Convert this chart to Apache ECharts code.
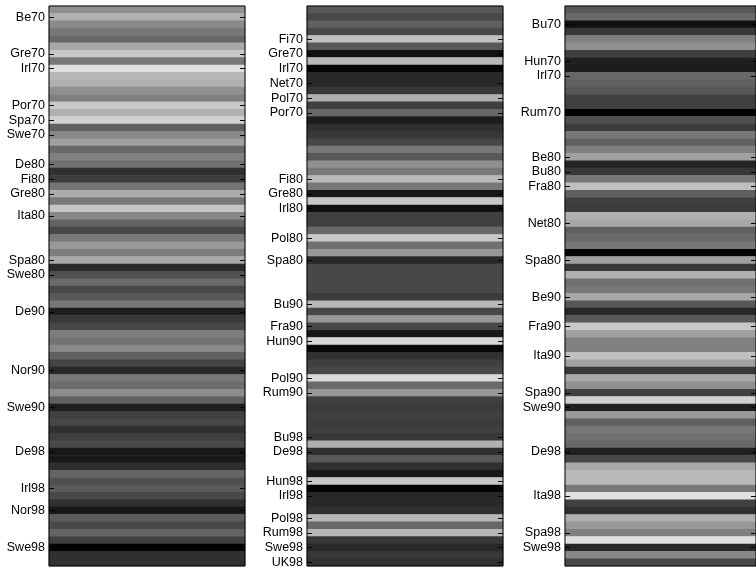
<!DOCTYPE html>
<html>
<head>
<meta charset="utf-8">
<script src="https://cdn.jsdelivr.net/npm/echarts@6/dist/echarts.min.js"></script>
<style>
html,body{margin:0;padding:0;background:#fff;}
#main{width:756px;height:569px;}
</style>
</head>
<body>
<div id="main"></div>
<script>
// Number of rows in each panel
const ROWS = 76;

// Panel 1: labelled rows and gray levels (0 = black, 255 = white)
const names1 = ['Be70','Gre70','Irl70','Por70','Spa70','Swe70','De80','Fi80','Gre80','Ita80','Spa80','Swe80','De90','Nor90','Swe90','De98','Irl98','Nor98','Swe98'];
const rows1  = [1,6,8,13,15,17,21,23,25,28,34,36,41,49,54,60,65,68,73];
const values1 = [144,176,138,120,104,168,200,120,224,184,176,144,128,200,176,208,96,136,160,104,
                 128,112,48,60,116,172,120,196,136,100,72,120,152,124,168,42,80,106,72,88,
                 120,30,56,72,124,114,136,96,68,40,120,108,140,96,30,64,72,48,62,74,
                 24,24,46,100,80,90,72,48,24,92,72,100,64,2,48,48];

// Panel 2
const names2 = ['Fi70','Gre70','Irl70','Net70','Pol70','Por70','Fi80','Gre80','Irl80','Pol80','Spa80','Bu90','Fra90','Hun90','Pol90','Rum90','Bu98','De98','Hun98','Irl98','Pol98','Rum98','Swe98','UK98'];
const rows2  = [4,6,8,10,12,14,23,25,27,31,34,40,43,45,50,52,58,60,64,66,69,71,73,75];
const values2 = [88,72,96,72,192,88,16,184,5,40,40,56,176,64,104,28,48,56,72,120,
                 88,144,120,184,120,24,200,16,64,64,104,200,112,152,40,72,72,72,72,60,
                 184,72,152,72,24,216,8,48,64,72,216,104,152,64,60,64,60,64,56,176,
                 48,88,48,24,200,5,40,40,48,184,104,184,56,40,56,48];

// Panel 3
const names3 = ['Bu70','Hun70','Irl70','Rum70','Be80','Bu80','Fra80','Net80','Spa80','Be90','Fra90','Ita90','Spa90','Swe90','De98','Ita98','Spa98','Swe98'];
const rows3  = [2,7,9,14,20,22,24,29,34,39,43,47,52,54,60,66,71,73];
const values3 = [88,104,16,56,128,144,64,32,28,104,96,88,64,64,2,80,60,120,96,128,
                 160,36,56,120,192,96,64,60,176,168,96,104,120,5,160,56,176,112,120,168,
                 88,40,88,200,160,128,128,192,160,56,168,144,64,208,32,152,96,120,112,104,
                 32,72,168,184,184,120,224,64,48,176,152,128,224,40,136,72];

const panels = [
  {names: names1, rows: rows1, values: values1},
  {names: names2, rows: rows2, values: values2},
  {names: names3, rows: rows3, values: values3}
];

function categories(p) {
  const c = [];
  for (let i = 0; i < ROWS; i++) c.push('');
  p.rows.forEach((r, k) => { c[r] = p.names[k]; });
  return c;
}

const lefts = [49, 307, 565];
const grid = [], xAxis = [], yAxis = [], series = [];
panels.forEach((p, i) => {
  const cats = categories(p);
  grid.push({left: lefts[i], top: 6, width: 196, height: 560, show: true, z: 10,
             borderColor: '#000', borderWidth: 1, backgroundColor: 'transparent'});
  xAxis.push({type: 'category', gridIndex: i, data: ['v'], show: false});
  const tick = {show: true, inside: true, length: 5, alignWithLabel: true,
                interval: (idx, val) => val !== '', lineStyle: {color: '#000', width: 1}};
  yAxis.push({type: 'category', gridIndex: i, data: cats, inverse: true, position: 'left', z: 10,
              axisLine: {show: false}, axisTick: tick,
              axisLabel: {interval: 0, color: '#000', fontSize: 12.5, margin: 4,
                          fontFamily: 'Liberation Sans, Arial, sans-serif'},
              splitLine: {show: false}});
  yAxis.push({type: 'category', gridIndex: i, data: cats, inverse: true, position: 'right', z: 10,
              axisLine: {show: false}, axisTick: tick, axisLabel: {show: false},
              splitLine: {show: false}});
  series.push({type: 'heatmap', xAxisIndex: i, yAxisIndex: 2 * i, z: 2,
               data: p.values.map((v, r) => [0, r, v]),
               emphasis: {disabled: true}, progressive: 0});
});

const chart = echarts.init(document.getElementById('main'), null, {renderer: 'canvas'});
chart.setOption({
  animation: false,
  backgroundColor: '#fff',
  grid, xAxis, yAxis, series,
  visualMap: {show: false, type: 'continuous', min: 0, max: 255, dimension: 2,
              seriesIndex: [0, 1, 2], inRange: {color: ['#000000', '#ffffff']}}
});
</script>
</body>
</html>
